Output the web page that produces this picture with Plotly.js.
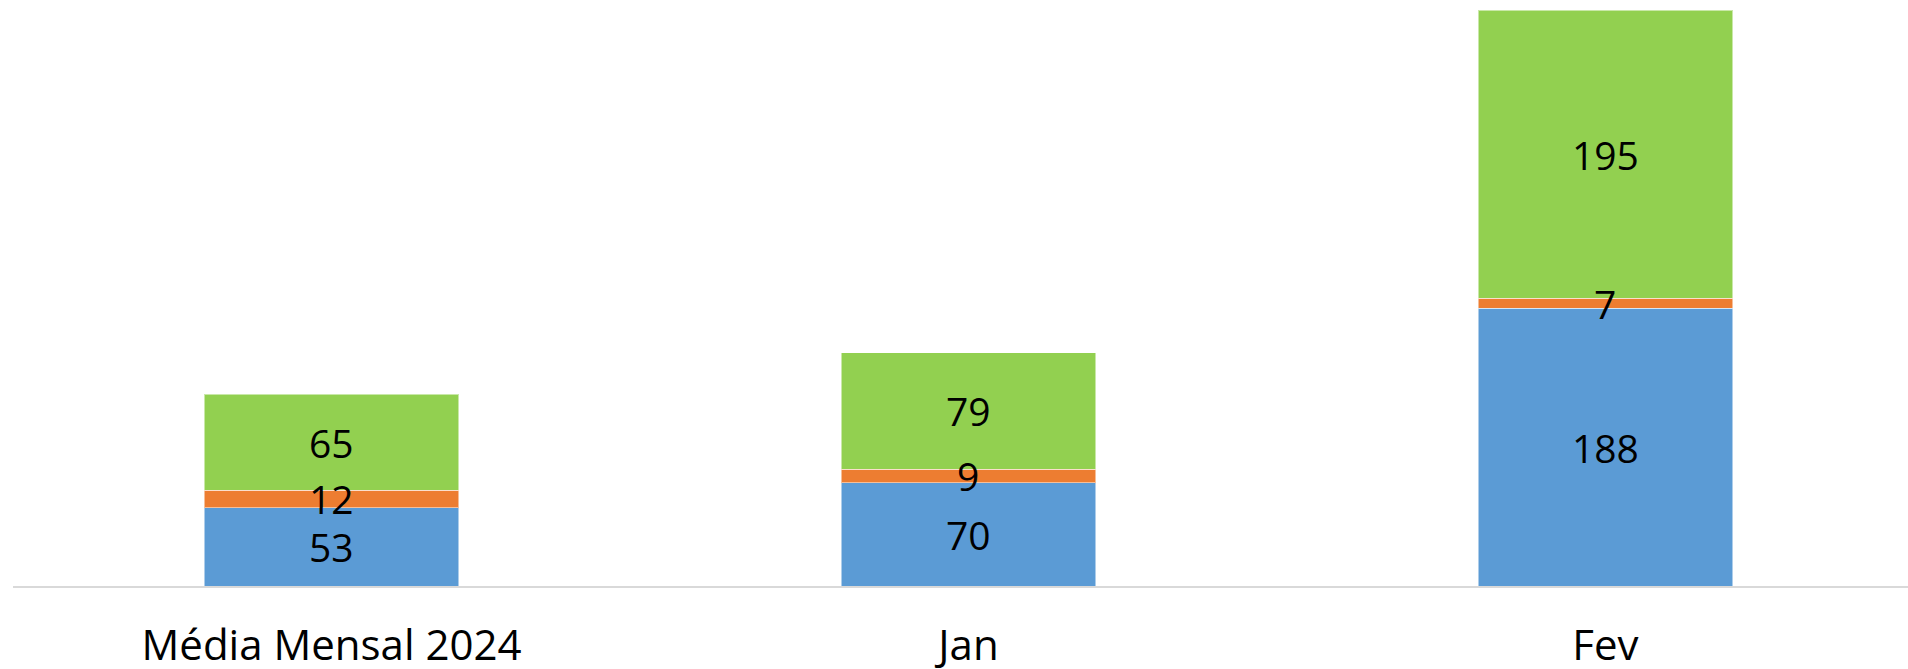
<!DOCTYPE html>
<html>
<head>
<meta charset="utf-8">
<script src="https://cdn.plot.ly/plotly-3.0.1.min.js"></script>
<style>html,body{margin:0;padding:0;background:#fff;}#chart{width:1908px;height:669px;}</style>
</head>
<body>
<div id="chart"></div>
<script>
const categories = ["Média Mensal 2024", "Jan", "Fev"];
const serieAzul = [53, 70, 188];
const serieLaranja = [12, 9, 7];
const serieVerde = [65, 79, 195];

const colors = { azul: "#5B9BD5", laranja: "#ED7D31", verde: "#92D050" };
const labelFont = { family: "Open Sans, Noto Sans, sans-serif", size: 39, color: "#000000" };
const tickFont = { family: "Open Sans, Noto Sans, sans-serif", size: 42, color: "#000000" };

const series = [
  { name: "Azul", vals: serieAzul, color: colors.azul },
  { name: "Laranja", vals: serieLaranja, color: colors.laranja },
  { name: "Verde", vals: serieVerde, color: colors.verde }
];

const data = [];
const annotations = [];
const base = categories.map(() => 0);
series.forEach(s => {
  data.push({
    type: "bar",
    name: s.name,
    x: categories,
    y: s.vals,
    marker: { color: s.color, line: { color: "rgba(255,255,255,0.5)", width: 1 } },
    width: 0.4,
    hoverinfo: "none"
  });
  s.vals.forEach((v, i) => {
    annotations.push({
      x: categories[i],
      y: base[i] + v / 2,
      xref: "x",
      yref: "y",
      text: String(v),
      showarrow: false,
      xanchor: "center",
      yanchor: "middle",
      yshift: 0,
      font: labelFont
    });
    base[i] += v;
  });
});

const layout = {
  width: 1908,
  height: 669,
  barmode: "stack",
  showlegend: false,
  paper_bgcolor: "#ffffff",
  plot_bgcolor: "#ffffff",
  margin: { l: 13, r: 0, t: 10, b: 83, pad: 0 },
  annotations: annotations,
  xaxis: {
    type: "category",
    range: [-0.5, 2.475],
    showline: true,
    linecolor: "#d9d9d9",
    linewidth: 2,
    ticks: "",
    showgrid: false,
    zeroline: false,
    tickfont: tickFont,
    ticklabelstandoff: 22
  },
  yaxis: {
    range: [0, 390],
    visible: false,
    showgrid: false,
    zeroline: false
  }
};

Plotly.newPlot("chart", data, layout, { displayModeBar: false, staticPlot: true });
</script>
</body>
</html>
